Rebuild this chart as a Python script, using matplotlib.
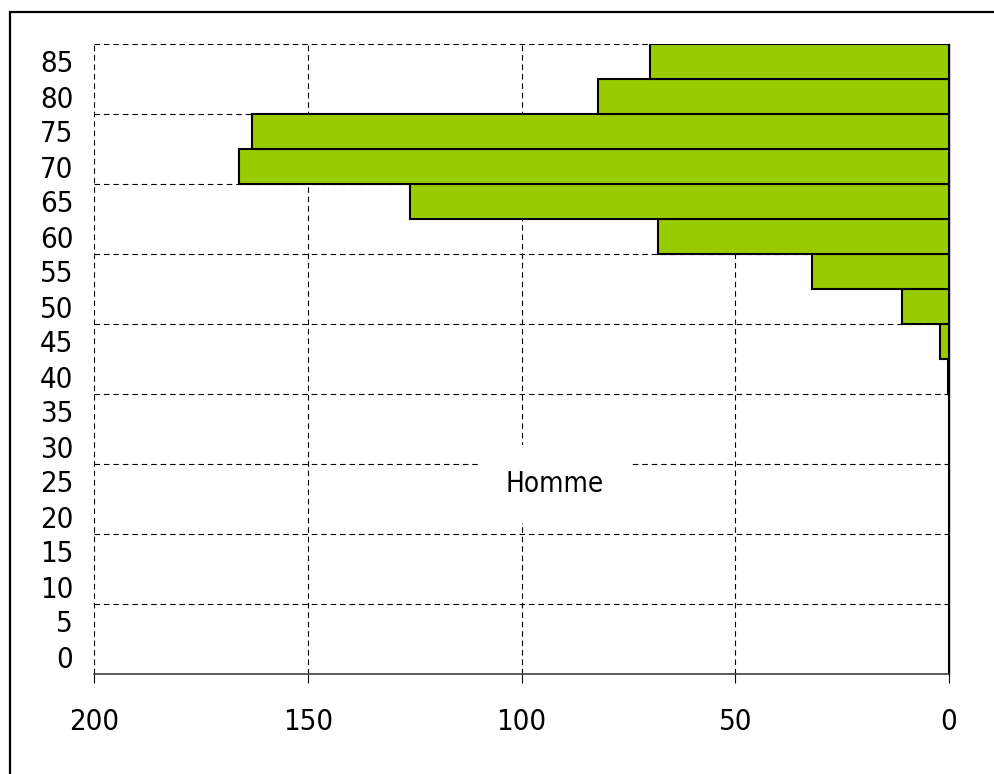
import numpy as np
import matplotlib
matplotlib.use("Agg")
import matplotlib.pyplot as plt
from matplotlib.patches import Rectangle

plt.rcParams['font.family'] = ['DejaVu Sans']
plt.rcParams['font.stretch'] = 'condensed'

# age groups (lower bound) and number of men per group
ages = [0, 5, 10, 15, 20, 25, 30, 35, 40, 45, 50, 55, 60, 65, 70, 75, 80, 85]
homme = [0, 0, 0, 0, 0, 0, 0, 0, 0.3, 2, 11, 32, 68, 126, 166, 163, 82, 70]
xticks = [200, 150, 100, 50, 0]
label = "Homme"

bar_color = "#99CC00"
dash = (0, (5, 3.5))

fig = plt.figure(figsize=(9.94, 7.74), dpi=100)
ax = fig.add_axes([94 / 994, 1 - 674 / 774, 855 / 994, 630 / 774])

pos = np.arange(len(ages))
ax.barh(pos, homme, height=1.0, color=bar_color, edgecolor="black",
        linewidth=1.5, zorder=3)

ax.set_xlim(200, 0)
ax.set_ylim(-0.5, len(ages) - 0.5)

ax.set_xticks(xticks)
ax.set_xticklabels([str(v) for v in xticks])
ax.set_yticks(pos)
ax.set_yticklabels([str(a) for a in ages])
ax.set_yticks(np.arange(1.5, len(ages), 2), minor=True)

ax.tick_params(axis='y', which='both', length=0, pad=15, labelsize=21)
ax.tick_params(axis='x', length=6.5, width=0.8, pad=18, labelsize=21,
               direction='out')

ax.grid(axis='x', which='major', color='black', linewidth=0.8, linestyle=dash)
ax.grid(axis='y', which='minor', color='black', linewidth=0.8, linestyle=dash)
ax.set_axisbelow(True)

for s in ['top', 'left']:
    ax.spines[s].set_visible(False)
ax.spines['right'].set_linewidth(1.0)
ax.spines['bottom'].set_linewidth(1.2)
ax.spines['bottom'].set_color('#404040')

# series name sits on a white box that hides the gridlines behind it
ax.text(0.539, 0.301, label, transform=ax.transAxes, ha='center', va='center',
        fontsize=20, zorder=4,
        bbox=dict(facecolor='white', edgecolor='none', pad=18))

# outer chart frame (runs off the right and bottom edges)
fig.patches.append(Rectangle((10 / 994, -0.1), 1.0, 1.1 - 12 / 774,
                             transform=fig.transFigure, fill=False,
                             edgecolor='black', linewidth=1.6))

fig.savefig("out.png", dpi=100)
